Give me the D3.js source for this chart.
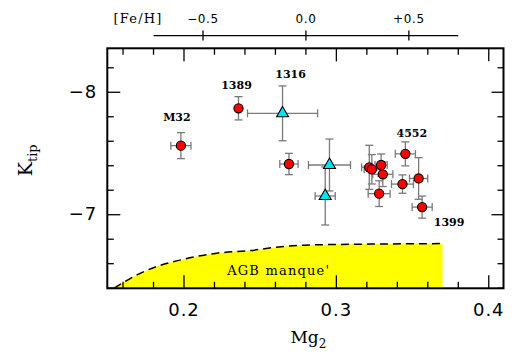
<!DOCTYPE html>
<html>
<head>
<meta charset="utf-8">
<script src="https://cdn.jsdelivr.net/npm/d3@7"></script>
<style>
  body { margin: 0; background: #fff; }
  svg { display: block; }
</style>
</head>
<body>
<div id="graf"></div>
<script>
// I. Datos
galaxias = ['M32', '1389', '1316', '', '', '', '', '', '', '', '', '4552', '', '', '1399']
tipo     = ['c', 'c', 't', 'c', 't', 't', 'c', 'c', 'c', 'c', 'c', 'c', 'c', 'c', 'c']
mg2      = [0.1983, 0.2361, 0.2650, 0.2692, 0.2958, 0.2930, 0.3219, 0.3236, 0.3297, 0.3308, 0.3284, 0.3456, 0.3437, 0.3543, 0.3566]
mg2Err   = [0.0066, 0, 0.0230, 0.0060, 0.0138, 0.0066, 0.0050, 0.0050, 0.0040, 0.0066, 0.0072, 0.0066, 0.0072, 0.0060, 0.0066]
ktip     = [-7.560, -7.865, -7.824, -7.410, -7.402, -7.149, -7.383, -7.367, -7.402, -7.326, -7.168, -7.493, -7.246, -7.292, -7.058]
ktipErr  = [0.106, 0.095, 0.224, 0.087, 0.212, 0.237, 0.180, 0.120, 0.090, 0.100, 0.105, 0.098, 0.075, 0.170, 0.090]

// curva AGB manque'
agbMg2 = [0.1545, 0.1705, 0.1825, 0.2011, 0.2219, 0.2438, 0.2600, 0.2785, 0.3225, 0.3700]
agbK   = [-6.396, -6.511, -6.573, -6.635, -6.682, -6.703, -6.729, -6.747, -6.756, -6.760]

xMajor = [0.2, 0.3, 0.4]
xMinor = [0.16, 0.18, 0.22, 0.24, 0.26, 0.28, 0.32, 0.34, 0.36, 0.38]
yMajor = [-8, -7]
yMinor = [-8.2, -7.8, -7.6, -7.4, -7.2, -6.8, -6.6, -6.4]

fehTicks  = [-0.5, 0, 0.5]
fehLabels = ['\u22120.5', '0.0', '+0.5']
fehMg2    = [0.2128, 0.3479]   // Mg2 donde [Fe/H] = -0.5 y +0.5
fehLinea  = [-0.74, 0.74]

// II. Lienzo
ancho_total = 528
alto_total = 363
margins = { top: 48.3, left: 107.3, right: 24.5, bottom: 74.7 }
ancho = ancho_total - margins.left - margins.right
alto  = alto_total - margins.top - margins.bottom

svg = d3.select('#graf').append('svg')
        .attr('width', ancho_total)
        .attr('height', alto_total)

g = svg.append('g')
       .attr('transform', `translate(${margins.left},${margins.top})`)

x = d3.scaleLinear().domain([0.15, 0.41]).range([0, ancho])
y = d3.scaleLinear().domain([-8.355, -6.395]).range([0, alto])

svg.append('defs').append('clipPath').attr('id', 'recorte')
   .append('rect').attr('width', ancho).attr('height', alto)

// AGB manque' (zona amarilla)
agb = agbMg2.map((m, i) => ({ m: m, k: agbK[i] }))

zona = g.append('g').attr('clip-path', 'url(#recorte)')

zona.append('path')
    .datum(agb)
    .attr('fill', '#ffff00')
    .attr('d', d3.area().x(d => x(d.m)).y0(alto).y1(d => y(d.k)).curve(d3.curveMonotoneX))

zona.append('path')
    .datum(agb)
    .attr('fill', 'none')
    .attr('stroke', '#000')
    .attr('stroke-width', 1.5)
    .attr('stroke-dasharray', '8,5')
    .attr('d', d3.line().x(d => x(d.m)).y(d => y(d.k)).curve(d3.curveMonotoneX))

g.append('text')
 .attr('x', x(0.2625))
 .attr('y', y(-6.5))
 .attr('text-anchor', 'middle')
 .style('font-family', 'DejaVu Serif')
 .style('font-size', '13px')
 .style('letter-spacing', '1.2px')
 .text("AGB manque'")

// EJES
function ejes(escala, fn, valores, largo, conTexto) {
  var a = fn(escala).tickValues(valores).tickSizeInner(-largo).tickSizeOuter(0)
  if (!conTexto) a.tickFormat('')
  return a
}

function estiloEje(sel) {
  sel.select('.domain').remove()
  sel.selectAll('line').attr('stroke', '#000').attr('stroke-width', 1.3)
  sel.selectAll('text')
     .attr('fill', '#000')
     .style('font-family', 'DejaVu Sans')
     .style('font-size', '18px')
     .style('letter-spacing', '1px')
}

gx = g.append('g').attr('transform', `translate(0,${alto})`)
gx.call(ejes(x, d3.axisBottom, xMajor, 13, true).tickPadding(15).tickFormat(d3.format('.1f'))).call(estiloEje)
g.append('g').attr('transform', `translate(0,${alto})`)
 .call(ejes(x, d3.axisBottom, xMinor, 6.5, false)).call(estiloEje)
g.append('g').call(ejes(x, d3.axisTop, xMajor, 13, false)).call(estiloEje)
g.append('g').call(ejes(x, d3.axisTop, xMinor, 6.5, false)).call(estiloEje)

g.append('g').call(ejes(y, d3.axisLeft, yMajor, 13, true).tickPadding(10).tickFormat(d3.format('d'))).call(estiloEje)
g.append('g').call(ejes(y, d3.axisLeft, yMinor, 6.5, false)).call(estiloEje)
g.append('g').attr('transform', `translate(${ancho},0)`)
 .call(ejes(y, d3.axisRight, yMajor, 12, false)).call(estiloEje)
g.append('g').attr('transform', `translate(${ancho},0)`)
 .call(ejes(y, d3.axisRight, yMinor, 6, false)).call(estiloEje)

// marco
g.append('rect')
 .attr('width', ancho)
 .attr('height', alto)
 .attr('fill', 'none')
 .attr('stroke', '#000')
 .attr('stroke-width', 2)

// titulos de ejes
mgT = g.append('text')
       .attr('x', ancho / 2 + 3)
       .attr('y', alto + 55)
       .attr('text-anchor', 'middle')
       .style('font-family', 'DejaVu Serif')
       .style('font-size', '17px')
mgT.append('tspan').text('Mg')
mgT.append('tspan').attr('dy', 5).style('font-size', '12px').text('2')

kT = svg.append('text')
        .attr('transform', `translate(32,${margins.top + 112}) rotate(-90)`)
        .attr('text-anchor', 'middle')
        .style('font-family', 'DejaVu Serif')
        .style('font-size', '19px')
kT.append('tspan').text('K')
kT.append('tspan').attr('dy', 5).style('font-size', '13px').text('tip')

// eje superior [Fe/H]
feh = d3.scaleLinear()
        .domain([fehTicks[0], fehTicks[2]])
        .range([margins.left + x(fehMg2[0]), margins.left + x(fehMg2[1])])

gf = svg.append('g').attr('transform', 'translate(0,35.6)')
gf.append('line')
  .attr('x1', feh(fehLinea[0])).attr('x2', feh(fehLinea[1]))
  .attr('stroke', '#000').attr('stroke-width', 1.3)
gf.selectAll('.tf').data(fehTicks).enter().append('line')
  .attr('x1', d => feh(d)).attr('x2', d => feh(d))
  .attr('y1', -5).attr('y2', 5)
  .attr('stroke', '#000').attr('stroke-width', 1.3)
gf.selectAll('.lf').data(fehTicks).enter().append('text')
  .attr('x', d => feh(d))
  .attr('y', -13)
  .attr('text-anchor', 'middle')
  .style('font-family', 'DejaVu Sans')
  .style('font-size', '12px')
  .style('letter-spacing', '0.6px')
  .text((d, i) => fehLabels[i])
gf.append('text')
  .attr('x', feh(fehLinea[0]) - 40)
  .attr('y', -13)
  .style('font-family', 'DejaVu Serif')
  .style('font-size', '13px')
  .style('letter-spacing', '1.2px')
  .text('[Fe/H]')

// BARRAS DE ERROR
datos = galaxias.map((n, i) => ({
  nombre: n, tipo: tipo[i], m: mg2[i], me: mg2Err[i], k: ktip[i], ke: ktipErr[i]
}))

cap = 4
eb = g.append('g').attr('stroke', '#7a7a7a').attr('stroke-width', 1.3)
datos.forEach(d => {
  var cx = x(d.m), cy = y(d.k)
  if (d.ke > 0) {
    eb.append('line').attr('x1', cx).attr('x2', cx).attr('y1', y(d.k - d.ke)).attr('y2', y(d.k + d.ke))
    eb.append('line').attr('x1', cx - cap).attr('x2', cx + cap).attr('y1', y(d.k - d.ke)).attr('y2', y(d.k - d.ke))
    eb.append('line').attr('x1', cx - cap).attr('x2', cx + cap).attr('y1', y(d.k + d.ke)).attr('y2', y(d.k + d.ke))
  }
  if (d.me > 0) {
    eb.append('line').attr('y1', cy).attr('y2', cy).attr('x1', x(d.m - d.me)).attr('x2', x(d.m + d.me))
    eb.append('line').attr('y1', cy - cap).attr('y2', cy + cap).attr('x1', x(d.m - d.me)).attr('x2', x(d.m - d.me))
    eb.append('line').attr('y1', cy - cap).attr('y2', cy + cap).attr('x1', x(d.m + d.me)).attr('x2', x(d.m + d.me))
  }
})

// PUNTOS
g.selectAll('.pc')
 .data(datos.filter(d => d.tipo == 'c'))
 .enter().append('circle')
 .attr('cx', d => x(d.m))
 .attr('cy', d => y(d.k))
 .attr('r', 4.6)
 .attr('fill', '#ff0000')
 .attr('stroke', '#000')
 .attr('stroke-width', 1.1)

g.selectAll('.pt')
 .data(datos.filter(d => d.tipo == 't'))
 .enter().append('path')
 .attr('transform', d => `translate(${x(d.m)},${y(d.k)})`)
 .attr('d', d3.symbol(d3.symbolTriangle, 62))
 .attr('fill', '#00e5ee')
 .attr('stroke', '#000')
 .attr('stroke-width', 1.1)

// ETIQUETAS
desplaza = { 'M32': [-4, -25], '1389': [-2, -19], '1316': [8, -35], '4552': [6.5, -17], '1399': [27, 19] }

g.selectAll('.et')
 .data(datos.filter(d => d.nombre != ''))
 .enter().append('text')
 .attr('x', d => x(d.m) + desplaza[d.nombre][0])
 .attr('y', d => y(d.k) + desplaza[d.nombre][1])
 .attr('text-anchor', 'middle')
 .style('font-family', 'DejaVu Serif')
 .style('font-size', '11px')
 .style('font-weight', 'bold')
 .text(d => d.nombre)
</script>
</body>
</html>
